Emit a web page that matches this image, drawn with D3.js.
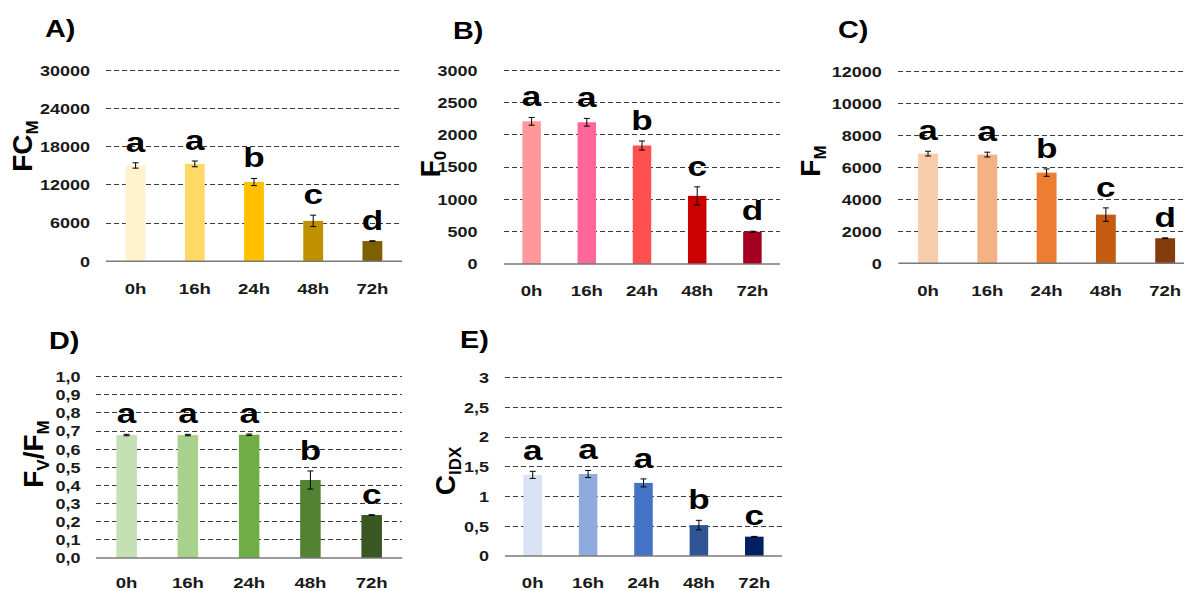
<!DOCTYPE html>
<html>
<head>
<meta charset="utf-8">
<script src="https://cdn.jsdelivr.net/npm/d3@7"></script>
<style>
  html, body { margin: 0; padding: 0; background: #fff; }
  svg { display: block; font-family: "Liberation Sans", Arial, sans-serif; font-weight: bold; }
</style>
</head>
<body>
<svg id="chart" width="1184" height="591"></svg>
<script>
// Sampling times
const categories = ["0h", "16h", "24h", "48h", "72h"];

// A) FC_M
const fcmValues = [15050, 15300, 12450, 6350, 3180];
const fcmErrors = [420, 450, 560, 900, 40];
const fcmLetters = ["a", "a", "b", "c", "d"];
const fcmTicks = [0, 6000, 12000, 18000, 24000, 30000];
const fcmColors = ["#FFF2CC", "#FFD966", "#FFC000", "#BF9000", "#7F6000"];

// B) F0
const f0Values = [2210, 2195, 1835, 1055, 500];
const f0Errors = [60, 60, 70, 140, 8];
const f0Letters = ["a", "a", "b", "c", "d"];
const f0Ticks = [0, 500, 1000, 1500, 2000, 2500, 3000];
const f0Colors = ["#FF9999", "#FF6699", "#FF5050", "#CC0000", "#A50021"];

// C) FM
const fmValues = [6870, 6810, 5680, 3050, 1570];
const fmErrors = [150, 150, 230, 420, 25];
const fmLetters = ["a", "a", "b", "c", "d"];
const fmTicks = [0, 2000, 4000, 6000, 8000, 10000, 12000];
const fmColors = ["#F8CBAD", "#F4B183", "#ED7D31", "#C55A11", "#843C0C"];

// D) FV/FM
const fvfmValues = [0.678, 0.678, 0.680, 0.430, 0.237];
const fvfmErrors = [0.004, 0.004, 0.004, 0.050, 0.002];
const fvfmLetters = ["a", "a", "a", "b", "c"];
const fvfmTicks = [0, 0.1, 0.2, 0.3, 0.4, 0.5, 0.6, 0.7, 0.8, 0.9, 1.0];
const fvfmTickLabels = ["0,0", "0,1", "0,2", "0,3", "0,4", "0,5", "0,6", "0,7", "0,8", "0,9", "1,0"];
const fvfmColors = ["#C5E0B4", "#A9D18E", "#70AD47", "#548235", "#385723"];

// E) CIDX
const cidxValues = [1.365, 1.380, 1.230, 0.520, 0.325];
const cidxErrors = [0.060, 0.060, 0.067, 0.080, 0.005];
const cidxLetters = ["a", "a", "a", "b", "c"];
const cidxTicks = [0, 0.5, 1, 1.5, 2, 2.5, 3];
const cidxTickLabels = ["0", "0,5", "1", "1,5", "2", "2,5", "3"];
const cidxColors = ["#DAE3F3", "#8FAADC", "#4472C4", "#2F5597", "#002060"];

const svg = d3.select("#chart");
svg.append("rect").attr("width", 1184).attr("height", 591).attr("fill", "#fff");

const SX = 1.2;   // horizontal widening of the bold labels
const SXL = 1.3;  // widening of the significance letters

const panels = [
  { title: "A)", titleX: 45, titleY: 37,
    yLabel: [["FC", null], ["M", "sub"]], yLabelX: 32, yLabelY: 146,
    x0: 106, x1: 402, yTop: 70.3, yBottom: 261.3, max: 30000, tickPad: 13.3, xPad: 21.3,
    values: fcmValues, errors: fcmErrors, letters: fcmLetters, ticks: fcmTicks,
    tickLabels: fcmTicks.map(String), colors: fcmColors },
  { title: "B)", titleX: 453, titleY: 38.5,
    yLabel: [["F", null], ["0", "sub"]], yLabelX: 440, yLabelY: 164,
    x0: 504, x1: 780, yTop: 70.3, yBottom: 264, max: 3000, tickPad: 22, xPad: 21,
    values: f0Values, errors: f0Errors, letters: f0Letters, ticks: f0Ticks,
    tickLabels: f0Ticks.map(String), colors: f0Colors },
  { title: "C)", titleX: 838, titleY: 38,
    yLabel: [["F", null], ["M", "sub"]], yLabelX: 820, yLabelY: 161,
    x0: 898.4, x1: 1194.8, yTop: 71.7, yBottom: 263.3, max: 12000, tickPad: 13.8, xPad: 21.3,
    values: fmValues, errors: fmErrors, letters: fmLetters, ticks: fmTicks,
    tickLabels: fmTicks.map(String), colors: fmColors },
  { title: "D)", titleX: 49, titleY: 348.5,
    yLabel: [["F", null], ["V", "sub"], ["/F", null], ["M", "sub"]], yLabelX: 43, yLabelY: 454,
    x0: 96, x1: 402.3, yTop: 376.7, yBottom: 558, max: 1, tickPad: 13, xPad: 19.5,
    values: fvfmValues, errors: fvfmErrors, letters: fvfmLetters, ticks: fvfmTicks,
    tickLabels: fvfmTickLabels, colors: fvfmColors },
  { title: "E)", titleX: 460, titleY: 348,
    yLabel: [["C", null], ["IDX", "sub"]], yLabelX: 455, yLabelY: 471,
    x0: 505, x1: 782, yTop: 377.7, yBottom: 556, max: 3, tickPad: 13.3, xPad: 20.5,
    values: cidxValues, errors: cidxErrors, letters: cidxLetters, ticks: cidxTicks,
    tickLabels: cidxTickLabels, colors: cidxColors }
];

panels.forEach(p => {
  const g = svg.append("g");

  const x = d3.scaleBand()
    .domain(categories)
    .range([p.x0, p.x1])
    .paddingInner(0.665)
    .paddingOuter(0.3325);
  const y = d3.scaleLinear().domain([0, p.max]).range([p.yBottom, p.yTop]);

  // dashed horizontal gridlines
  g.append("g").selectAll("line")
    .data(p.ticks.filter(t => t > 0))
    .join("line")
    .attr("x1", p.x0).attr("x2", p.x1)
    .attr("y1", d => y(d)).attr("y2", d => y(d))
    .attr("stroke", "#3a3a3a")
    .attr("stroke-width", 1)
    .attr("stroke-dasharray", "5,3")
    .attr("shape-rendering", "crispEdges");

  // y tick labels
  const yAxis = d3.axisLeft(y)
    .tickValues(p.ticks)
    .tickSize(0)
    .tickPadding(p.tickPad)
    .tickFormat((d, i) => p.tickLabels[i]);
  const ya = g.append("g").attr("transform", `translate(${p.x0},0)`).call(yAxis);
  ya.select(".domain").remove();
  ya.selectAll("text")
    .attr("font-size", 15)
    .attr("font-family", "Liberation Sans, Arial, sans-serif")
    .attr("font-weight", "bold")
    .attr("fill", "#1a1a1a")
    .attr("transform", `scale(${SX},1)`);

  // bars
  g.append("g").selectAll("rect")
    .data(p.values)
    .join("rect")
    .attr("x", (d, i) => x(categories[i]))
    .attr("width", x.bandwidth())
    .attr("y", d => y(d))
    .attr("height", d => y(0) - y(d))
    .attr("fill", (d, i) => p.colors[i]);

  // baseline
  g.append("line")
    .attr("x1", p.x0).attr("x2", p.x1)
    .attr("y1", y(0)).attr("y2", y(0))
    .attr("stroke", "#7a7a7a")
    .attr("stroke-width", 1.4);

  // error bars
  const eb = g.append("g").attr("stroke", "#000").attr("stroke-width", 1);
  p.values.forEach((v, i) => {
    const cx = x(categories[i]) + x.bandwidth() / 2;
    const e = p.errors[i];
    eb.append("line").attr("x1", cx).attr("x2", cx).attr("y1", y(v - e)).attr("y2", y(v + e));
    eb.append("line").attr("x1", cx - 3).attr("x2", cx + 3).attr("y1", y(v - e)).attr("y2", y(v - e));
    eb.append("line").attr("x1", cx - 3).attr("x2", cx + 3).attr("y1", y(v + e)).attr("y2", y(v + e));
  });

  // significance letters
  g.append("g").selectAll("text")
    .data(p.values)
    .join("text")
    .attr("transform", (d, i) =>
      `translate(${x(categories[i]) + x.bandwidth() / 2},${y(d + p.errors[i]) - 11}) scale(${SXL},1)`)
    .attr("text-anchor", "middle")
    .attr("font-size", 27)
    .attr("fill", "#000")
    .text((d, i) => p.letters[i]);

  // x tick labels
  const xAxis = d3.axisBottom(x).tickSize(0).tickPadding(p.xPad);
  const xa = g.append("g").attr("transform", `translate(0,${p.yBottom})`).call(xAxis);
  xa.select(".domain").remove();
  xa.selectAll("text")
    .attr("font-size", 15.5)
    .attr("font-family", "Liberation Sans, Arial, sans-serif")
    .attr("font-weight", "bold")
    .attr("fill", "#1a1a1a")
    .attr("transform", `scale(${SX},1)`);

  // panel title
  g.append("text")
    .attr("transform", `translate(${p.titleX},${p.titleY}) scale(${SX},1)`)
    .attr("font-size", 24)
    .attr("fill", "#000")
    .text(p.title);

  // rotated y-axis title with subscripts
  const yt = g.append("text")
    .attr("transform", `translate(${p.yLabelX},${p.yLabelY}) rotate(-90)`)
    .attr("text-anchor", "middle")
    .attr("font-size", 28)
    .attr("fill", "#000");
  p.yLabel.forEach(([txt, kind], k) => {
    const prevSub = k > 0 && p.yLabel[k - 1][1] === "sub";
    const ts = yt.append("tspan").text(txt);
    if (kind === "sub") {
      ts.attr("font-size", 17).attr("dy", 6);
    } else if (prevSub) {
      ts.attr("dy", -6);
    }
  });
});
</script>
</body>
</html>
